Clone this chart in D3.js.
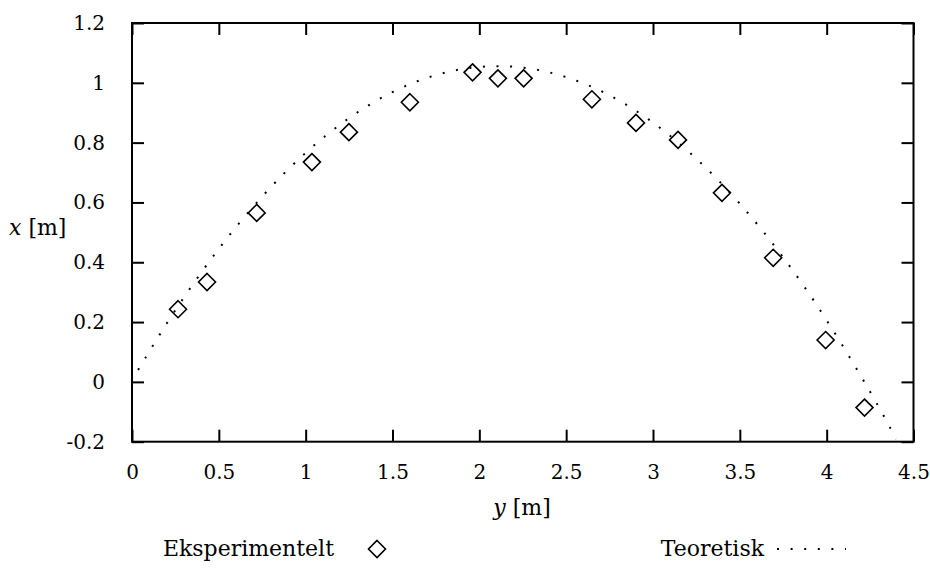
<!DOCTYPE html>
<meta charset="utf-8">
<style>
body { margin: 0; background: #fff; }
svg { font-family: "DejaVu Serif", "Liberation Serif", serif; }
.frame { fill: none; stroke: #000; stroke-width: 2px; }
.tick line { stroke: #000; stroke-width: 2px; }
.tick text { font-size: 20px; fill: #000; }
.label { font-size: 22px; }
.exp { fill: none; stroke: #000; stroke-width: 1.6px; }
.teo { fill: none; stroke: #000; stroke-width: 2px; stroke-dasharray: 2 11.6; }
</style>
<body>
<script src="https://cdn.jsdelivr.net/npm/d3@7"></script>
<script>

// measured points (y [m], x [m])
var expY = [0.265, 0.432, 0.718, 1.036, 1.249, 1.600, 1.961, 2.107, 2.255, 2.648, 2.902, 3.144, 3.397, 3.692, 3.994, 4.218];
var expX = [0.243, 0.334, 0.565, 0.735, 0.835, 0.935, 1.035, 1.015, 1.015, 0.945, 0.866, 0.809, 0.632, 0.415, 0.140, -0.086];

// theoretical curve
var teoY = [0.035, 0.25, 0.5, 0.75, 1.0, 1.25, 1.5, 1.75, 2.0, 2.25, 2.5, 2.75, 3.0, 3.25, 3.5, 3.75, 4.0, 4.25, 4.4];
var teoX = [0.040, 0.240, 0.445, 0.620, 0.766, 0.882, 0.969, 1.026, 1.053, 1.051, 1.019, 0.958, 0.867, 0.746, 0.596, 0.416, 0.206, -0.033, -0.191];

var xTicks = [0, 0.5, 1, 1.5, 2, 2.5, 3, 3.5, 4, 4.5];
var yTicks = [-0.2, 0, 0.2, 0.4, 0.6, 0.8, 1, 1.2];

var width = 930, height = 572;
var margin = {top: 23, left: 132};
var w = 913.5 - margin.left, h = 441.7 - margin.top;

var svg = d3.select("body").append("svg")
    .attr("width", width)
    .attr("height", height);

var g = svg.append("g")
    .attr("transform", "translate(" + margin.left + "," + margin.top + ")");

var x = d3.scaleLinear().domain([0, 4.5]).range([0, w]);
var y = d3.scaleLinear().domain([-0.2, 1.2]).range([h, 0]);

var fmt = function(d) { return String(+d.toFixed(1)); };

function clean(a) {
  a.select(".domain").remove();
  a.attr("font-family", null).attr("font-size", null);
}

// axes with inward ticks on all four sides
g.append("g")
    .attr("transform", "translate(0," + h + ")")
    .call(d3.axisBottom(x).tickValues(xTicks).tickSize(-12).tickPadding(23).tickFormat(fmt))
    .call(clean);
g.append("g")
    .call(d3.axisTop(x).tickValues(xTicks).tickSize(-12).tickFormat(""))
    .call(clean);
g.append("g")
    .call(d3.axisLeft(y).tickValues(yTicks).tickSize(-12).tickPadding(27).tickFormat(fmt))
    .call(clean);
g.append("g")
    .attr("transform", "translate(" + w + ",0)")
    .call(d3.axisRight(y).tickValues(yTicks).tickSize(-12).tickFormat(""))
    .call(clean);

g.append("rect")
    .attr("class", "frame")
    .attr("width", w)
    .attr("height", h);

// theoretical curve
var teo = teoY.map(function(d, i) { return [d, teoX[i]]; });
var line = d3.line()
    .x(function(d) { return x(d[0]); })
    .y(function(d) { return y(d[1]); })
    .curve(d3.curveNatural);

g.append("path")
    .attr("class", "teo")
    .attr("d", line(teo));

// experimental points
var diamond = "M0,-8.5L8.5,0L0,8.5L-8.5,0Z";
g.selectAll(".pt")
    .data(expY.map(function(d, i) { return [d, expX[i]]; }))
  .enter().append("path")
    .attr("class", "exp")
    .attr("d", diamond)
    .attr("transform", function(d) { return "translate(" + x(d[0]) + "," + y(d[1]) + ")"; });

// axis labels
var yl = svg.append("text").attr("class", "label")
    .attr("x", 9).attr("y", 235);
yl.append("tspan").attr("font-style", "italic").text("x");
yl.append("tspan").text(" [m]");

var xl = svg.append("text").attr("class", "label")
    .attr("x", 522).attr("y", 515).attr("text-anchor", "middle");
xl.append("tspan").attr("font-style", "italic").text("y");
xl.append("tspan").text(" [m]");

// legend
svg.append("text").attr("class", "label")
    .attr("x", 334).attr("y", 556).attr("text-anchor", "end")
    .text("Eksperimentelt");
svg.append("path")
    .attr("class", "exp")
    .attr("d", diamond)
    .attr("transform", "translate(377,549)");

svg.append("text").attr("class", "label")
    .attr("x", 764).attr("y", 556).attr("text-anchor", "end")
    .text("Teoretisk");
svg.append("path")
    .attr("class", "teo")
    .attr("d", d3.line()([[777, 549], [846, 549]]));

</script>
</body>
